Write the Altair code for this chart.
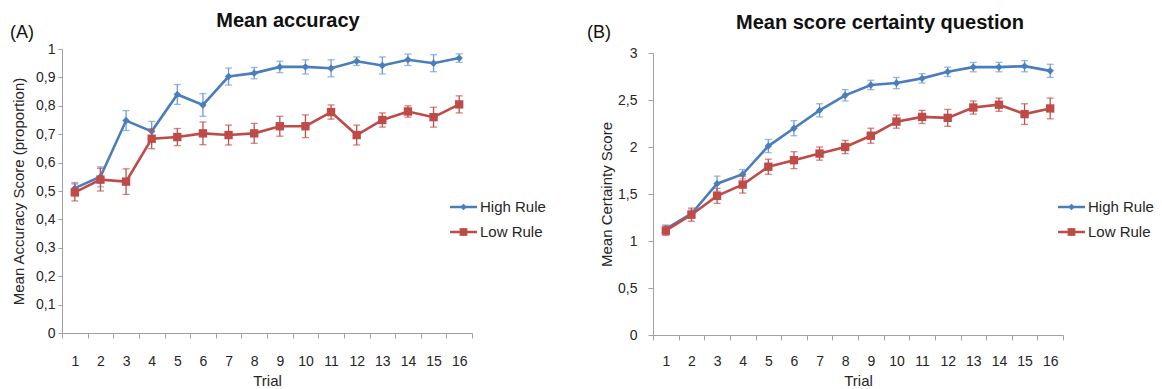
import altair as alt
import pandas as pd

trials = list(range(1, 17))
series_names = ["High Rule", "Low Rule"]

acc_high = [0.51, 0.55, 0.748, 0.71, 0.84, 0.803, 0.903, 0.915, 0.937, 0.937, 0.932, 0.957, 0.942, 0.962, 0.95, 0.968]
acc_high_err = [0.02, 0.035, 0.035, 0.035, 0.035, 0.04, 0.03, 0.02, 0.02, 0.025, 0.03, 0.015, 0.03, 0.02, 0.03, 0.015]
acc_low = [0.495, 0.54, 0.533, 0.684, 0.69, 0.703, 0.697, 0.703, 0.728, 0.728, 0.778, 0.697, 0.75, 0.78, 0.76, 0.805]
acc_low_err = [0.03, 0.04, 0.045, 0.035, 0.03, 0.04, 0.035, 0.035, 0.035, 0.04, 0.025, 0.035, 0.025, 0.02, 0.035, 0.03]

cert_high = [1.13, 1.29, 1.61, 1.71, 2.01, 2.20, 2.39, 2.55, 2.66, 2.68, 2.73, 2.80, 2.85, 2.85, 2.86, 2.81]
cert_high_err = [0.04, 0.04, 0.08, 0.05, 0.07, 0.08, 0.07, 0.06, 0.05, 0.06, 0.05, 0.05, 0.05, 0.05, 0.06, 0.07]
cert_low = [1.11, 1.28, 1.48, 1.60, 1.79, 1.86, 1.93, 2.00, 2.12, 2.27, 2.32, 2.31, 2.42, 2.45, 2.35, 2.41]
cert_low_err = [0.05, 0.07, 0.08, 0.09, 0.08, 0.09, 0.07, 0.07, 0.08, 0.07, 0.07, 0.09, 0.07, 0.07, 0.11, 0.11]

acc_ticks = [0, 0.1, 0.2, 0.3, 0.4, 0.5, 0.6, 0.7, 0.8, 0.9, 1]
cert_ticks = [0, 0.5, 1, 1.5, 2, 2.5, 3]
x_bounds = [t - 0.5 for t in trials] + [16.5]

line_colors = ["#4A7EBB", "#BE4B48"]
err_colors = ["#6F9BD3", "#C0504D"]
shapes = ["diamond", "square"]
shape_sizes = [55, 70]

FONT = "Liberation Sans"
PW = 410


def make_df(name, vals, errs):
    return pd.DataFrame({
        "trial": trials,
        "series": [name] * len(trials),
        "value": vals,
        "lo": [v - e for v, e in zip(vals, errs)],
        "hi": [v + e for v, e in zip(vals, errs)],
    })


def panel(data, ytitle, yticks, ydomain, yrange, height, ylabpad, ytitlepad, xlabpad,
          letter, title, title_pos, letter_pos, leg):
    xaxis = alt.Axis(values=x_bounds,
                     labelExpr="datum.value < 16 ? format(datum.value + 0.5, 'd') : ''",
                     labelOffset=PW / 32, title="Trial", tickSize=5, labelPadding=xlabpad,
                     labelOverlap=False, labelFlush=False, titlePadding=5)
    yaxis = alt.Axis(values=yticks,
                     labelExpr="replace(format(datum.value, '~g'), '.', ',')",
                     title=ytitle, tickSize=4 if ylabpad < 8 else 5, labelPadding=ylabpad,
                     labelOverlap=False, labelFlush=False, titlePadding=ytitlepad)
    xs = alt.Scale(domain=[0.5, 16.5], nice=False, zero=False)
    ys = alt.Scale(domain=ydomain, range=yrange, nice=False, zero=False)
    x = alt.X("trial:Q", scale=xs, axis=xaxis)

    layers = []
    for i, (name, vals, errs) in enumerate(data):
        df = make_df(name, vals, errs)
        base = alt.Chart(df)
        layers.append(base.mark_line(color=line_colors[i], strokeWidth=2.6).encode(
            x=x, y=alt.Y("value:Q", scale=ys, axis=yaxis)))
        layers.append(base.mark_errorbar(color=err_colors[i], thickness=1.3,
                                         ticks={"size": 7, "thickness": 1.3}).encode(
            x=x, y=alt.Y("lo:Q", scale=ys, axis=yaxis, title=ytitle), y2="hi:Q"))
        layers.append(base.mark_point(filled=True, shape=shapes[i], size=shape_sizes[i],
                                      color=line_colors[i], opacity=1).encode(
            x=x, y=alt.Y("value:Q", scale=ys, axis=yaxis)))
        # legend entry
        ldf = pd.DataFrame({"series": [name]})
        lb = alt.Chart(ldf)
        ly = leg[2] + i * leg[3]
        layers.append(lb.mark_rule(color=line_colors[i], strokeWidth=2.5).encode(
            x=alt.value(leg[0]), x2=alt.value(leg[0] + 27), y=alt.value(ly)))
        layers.append(lb.mark_point(filled=True, shape=shapes[i], size=shape_sizes[i] - 10,
                                    color=line_colors[i], opacity=1).encode(
            x=alt.value(leg[0] + 13.5), y=alt.value(ly)))
        layers.append(lb.mark_text(align="left", baseline="middle", font=FONT, fontSize=15,
                                   color="#262626").encode(
            x=alt.value(leg[1]), y=alt.value(ly), text="series:N"))

    tdf = pd.DataFrame({"t": [title]})
    layers.append(alt.Chart(tdf).mark_text(align="center", baseline="alphabetic",
                                           font=FONT, fontWeight="bold", fontSize=20,
                                           color="#111111").encode(
        x=alt.value(title_pos[0]), y=alt.value(title_pos[1]), text="t:N"))
    adf = pd.DataFrame({"t": [letter]})
    layers.append(alt.Chart(adf).mark_text(align="left", baseline="alphabetic",
                                           font=FONT, fontSize=18, color="#111111").encode(
        x=alt.value(letter_pos[0]), y=alt.value(letter_pos[1]), text="t:N"))

    return alt.layer(*layers).properties(width=PW, height=height)


pa = panel([(series_names[0], acc_high, acc_high_err), (series_names[1], acc_low, acc_low_err)],
           "Mean Accuracy Score (proportion)", acc_ticks, [0, 1], [286, 2], 286, 3, 9, 16,
           "(A)", "Mean accuracy", (226, -20), (-52, -9), (388, 418, 160, 25))
pb = panel([(series_names[0], cert_high, cert_high_err), (series_names[1], cert_low, cert_low_err)],
           "Mean Certainty Score", cert_ticks, [0, 3], [288, 6], 288, 11, 3, 14,
           "(B)", "Mean score certainty question", (227, -18), (-66, -9), (405, 435, 160, 25))

chart = alt.hconcat(pa, pb, spacing=181, bounds="flush").properties(
    padding={"left": 2, "top": 3, "right": 0, "bottom": 0}
).configure_axis(
    grid=False, domainColor="#A0A0A0", tickColor="#A0A0A0", labelColor="#262626",
    titleColor="#262626", labelFont=FONT, titleFont=FONT, labelFontSize=14,
    titleFontSize=15, titleFontWeight="normal"
).configure_view(stroke=None)

chart.save("out.html", embed_options={"renderer": "svg", "actions": False})
